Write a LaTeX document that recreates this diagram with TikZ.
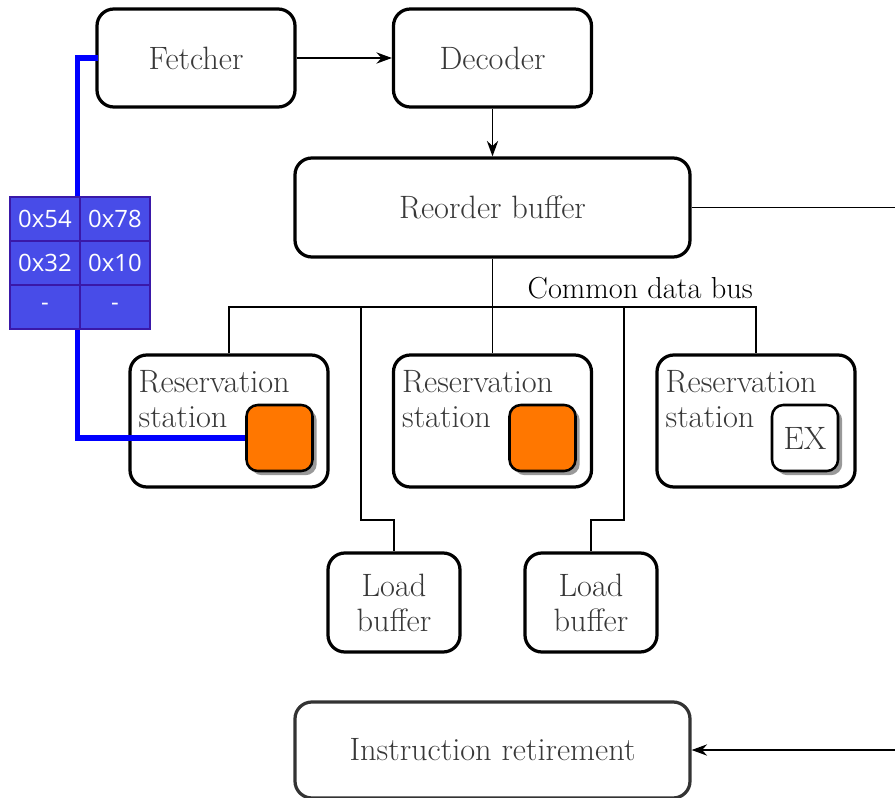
\documentclass[tikz,border=0pt]{standalone}
\usepackage{fontspec}
\newfontfamily\cellfont{Open Sans}
\usetikzlibrary{arrows.meta, positioning, shadows}
\definecolor{coreorange}{RGB}{255,119,0}
\definecolor{cellblue}{RGB}{72,76,232}
\definecolor{celledge}{RGB}{58,24,168}

\begin{document}
\begin{tikzpicture}[
  font=\fontsize{23}{25}\selectfont,
  unit/.style={draw, line width=2.3pt, rounded corners=12pt, text=black!78, align=center, inner sep=0pt},
  core/.style={draw, line width=1.8pt, rounded corners=8pt, minimum size=1.65cm, inner sep=0pt,
    drop shadow={shadow xshift=3pt, shadow yshift=-3pt, fill=black!40, opacity=1}},
  cell/.style={draw=celledge, line width=1pt, fill=cellblue, text=white, minimum width=1.75cm,
    minimum height=1.1cm, inner sep=0pt, font=\cellfont\fontsize{17}{20}\selectfont},
  wire/.style={line width=1pt},
  tip/.style={-{Stealth[length=11pt, width=8pt]}},
  ]
  \useasboundingbox (0,0) rectangle (22.375,-19.95);

  % front end
  \node[unit, minimum width=4.95cm, minimum height=2.45cm] (fetch) at (4.9,-1.45) {Fetcher};
  \node[unit, minimum width=4.95cm, minimum height=2.45cm] (decode) at (12.3125,-1.45) {Decoder};
  \node[unit, minimum width=9.875cm, minimum height=2.475cm] (rob) at (12.3125,-5.1875) {Reorder buffer};
  \draw[wire, tip] (fetch) -- (decode);
  \draw[wire, tip] (decode) -- (rob);

  % reservation stations
  \node[unit, minimum width=4.95cm, minimum height=3.3cm] (rs1) at (5.725,-10.525) {};
  \node[unit, minimum width=4.95cm, minimum height=3.3cm] (rs2) at (12.3125,-10.525) {};
  \node[unit, minimum width=4.95cm, minimum height=3.3cm] (rs3) at (18.9,-10.525) {};
  \foreach \i in {1,2,3}
    \node[text=black!78, anchor=north west, align=left, inner sep=0pt] (rstext\i)
      at ([xshift=0.25cm, yshift=-0.42cm]rs\i.north west) {Reservation\\station};
  \node[core, fill=coreorange] (core1) at (6.9875,-10.95) {};
  \node[core, fill=coreorange] (core2) at (13.5625,-10.95) {};
  \node[core, fill=white, text=black!78] (ex) at (20.125,-10.95) {EX};

  % load buffers
  \node[unit, minimum width=3.3cm, minimum height=2.475cm] (load1) at (9.85,-15.0625) {Load\\buffer};
  \node[unit, minimum width=3.3cm, minimum height=2.475cm] (load2) at (14.775,-15.0625) {Load\\buffer};

  % common data bus
  \coordinate (busl) at (5.725,-7.675);
  \coordinate (busr) at (18.9,-7.675);
  \coordinate (tapa) at (9.025,-7.675);
  \coordinate (tapb) at (15.6,-7.675);
  \draw[wire] (rs1.north) -- (busl) -- (busr) -- (rs3.north);
  \draw[wire] (rob.south) -- (rs2.north);
  \draw[wire] (tapa) -- ++(0,-5.325) -| (load1.north);
  \draw[wire] (tapb) -- ++(0,-5.325) -| (load2.north);
  \node[anchor=base east, inner sep=0pt, font=\fontsize{21.6}{25}\selectfont] (buslabel)
    at ([xshift=-0.075cm, yshift=0.225cm]busr) {Common data bus};

  % retirement
  \node[unit, draw=black!80, minimum width=9.875cm, minimum height=2.4cm] (retire) at (12.3125,-18.75) {Instruction retirement};
  \coordinate (edgetop) at (22.375,-5.1875);
  \coordinate (edgebot) at (22.375,-18.75);
  \draw[wire] (rob.east) -- (edgetop);
  \draw[wire, tip] (edgebot) -- (retire.east);

  % register table
  \draw[blue, line width=4pt] ([xshift=0.075cm]fetch.west) -- ++(-0.525,0) |- (core1.west);
  \foreach \r/\a/\b in {1/0x54/0x78, 2/0x32/0x10, 3/-/-} {
    \node[cell] (cellL\r) at (1.125,{-5.475-(\r-1)*1.1}) {\a};
    \node[cell] (cellR\r) at (2.875,{-5.475-(\r-1)*1.1}) {\b};
  }
\end{tikzpicture}
\end{document}
